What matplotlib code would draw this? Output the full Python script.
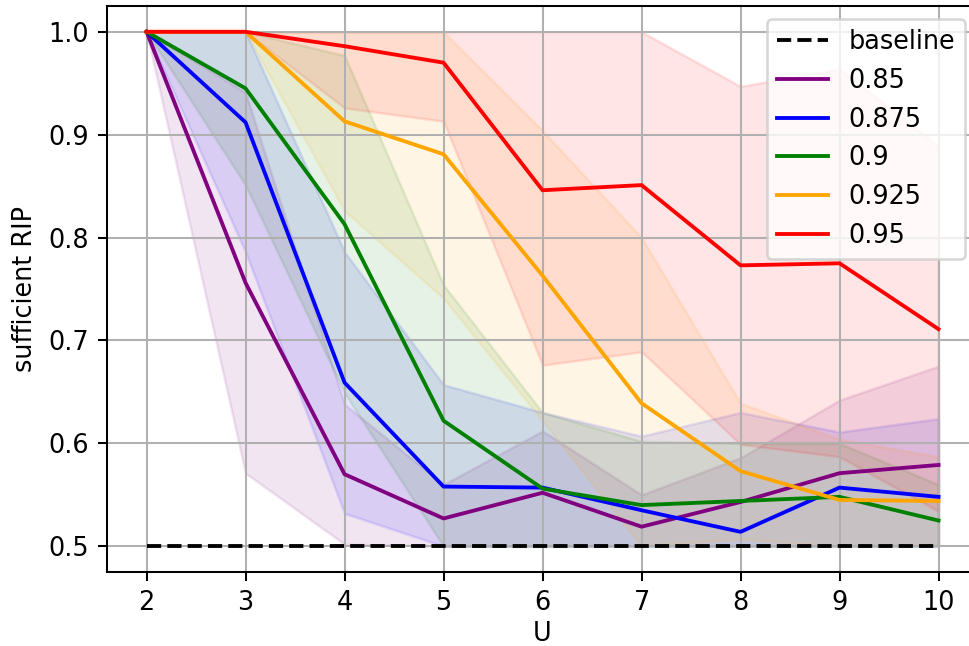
import numpy as np
import matplotlib.pyplot as plt

U = [2, 3, 4, 5, 6, 7, 8, 9, 10]
baseline = 0.5

labels = ['0.85', '0.875', '0.9', '0.925', '0.95']
colors = ['purple', 'blue', 'green', 'orange', 'red']

# mean sufficient RIP per U, one list per threshold
mean_085 = [1.0, 0.756, 0.570, 0.527, 0.552, 0.519, 0.543, 0.571, 0.579]
mean_0875 = [1.0, 0.912, 0.659, 0.558, 0.557, 0.535, 0.514, 0.557, 0.548]
mean_09 = [1.0, 0.945, 0.813, 0.622, 0.556, 0.540, 0.544, 0.548, 0.525]
mean_0925 = [1.0, 1.0, 0.913, 0.881, 0.763, 0.639, 0.573, 0.545, 0.544]
mean_095 = [1.0, 1.0, 0.986, 0.970, 0.846, 0.851, 0.773, 0.775, 0.711]

# spread (clipped to [0.5, 1])
upper_085 = [1.0, 0.941, 0.638, 0.560, 0.612, 0.550, 0.586, 0.642, 0.675]
lower_085 = [1.0, 0.571, 0.502, 0.500, 0.500, 0.500, 0.500, 0.500, 0.500]
upper_0875 = [1.0, 1.0, 0.786, 0.657, 0.630, 0.607, 0.630, 0.611, 0.624]
lower_0875 = [1.0, 0.786, 0.532, 0.500, 0.500, 0.500, 0.500, 0.500, 0.500]
upper_09 = [1.0, 1.0, 0.977, 0.754, 0.630, 0.602, 0.600, 0.600, 0.560]
lower_09 = [1.0, 0.851, 0.649, 0.500, 0.500, 0.500, 0.500, 0.500, 0.500]
upper_0925 = [1.0, 1.0, 1.0, 1.0, 0.904, 0.800, 0.639, 0.604, 0.587]
lower_0925 = [1.0, 1.0, 0.826, 0.741, 0.622, 0.500, 0.507, 0.500, 0.501]
upper_095 = [1.0, 1.0, 1.0, 1.0, 1.0, 1.0, 0.947, 0.964, 0.889]
lower_095 = [1.0, 1.0, 0.926, 0.913, 0.676, 0.689, 0.599, 0.587, 0.534]

means = [mean_085, mean_0875, mean_09, mean_0925, mean_095]
uppers = [upper_085, upper_0875, upper_09, upper_0925, upper_095]
lowers = [lower_085, lower_0875, lower_09, lower_0925, lower_095]

dpi = 184
fig = plt.figure(figsize=(969 / dpi, 646 / dpi), dpi=dpi)
ax = fig.add_axes([0.1104, 0.1146, 0.899, 0.876])

ax.plot(U, [baseline] * len(U), 'k--', label='baseline')
for lab, c, m, up, lo in zip(labels, colors, means, uppers, lowers):
    ax.plot(U, m, color=c, label=lab)
    ax.fill_between(U, lo, up, color=c, alpha=0.1)

ax.set_xlabel('U', labelpad=2)
ax.set_ylabel('sufficient RIP')
ax.set_xticks(U)
ax.grid(True)
ax.legend(loc='upper right')

fig.savefig('out.png', dpi=dpi)
